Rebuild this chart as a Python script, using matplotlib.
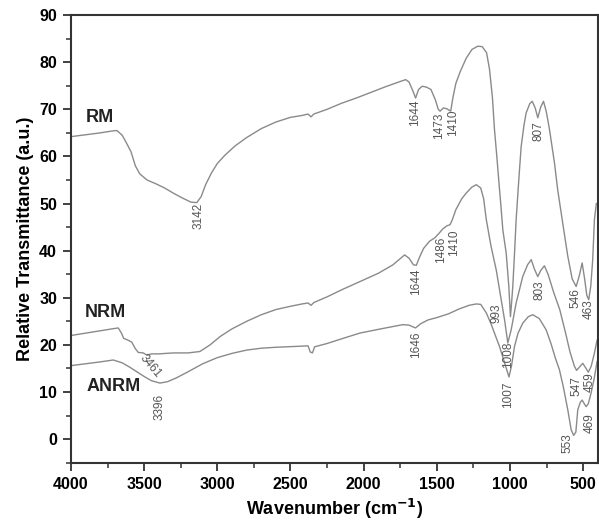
import numpy as np
import matplotlib
matplotlib.use("Agg")
import matplotlib.pyplot as plt
from matplotlib.ticker import MultipleLocator

plt.rcParams['font.family'] = ['Liberation Sans', 'DejaVu Sans']

# RM spectrum
rm_w = [4000, 3900, 3800, 3720, 3686, 3650, 3620, 3590, 3560, 3530, 3480, 3420,
        3360, 3300, 3240, 3180, 3140, 3110, 3080, 3040, 3000, 2950, 2880, 2800,
        2700, 2600, 2500, 2420, 2380, 2360, 2340, 2250, 2150, 2050, 1950, 1850,
        1760, 1713, 1690, 1665, 1645, 1625, 1600, 1570, 1540, 1510, 1490, 1478,
        1455, 1430, 1405, 1390, 1370, 1340, 1300, 1260, 1220, 1190, 1160, 1140,
        1120, 1106, 1090, 1077, 1062, 1049, 1026, 1008, 997, 989, 981, 969, 958,
        940, 924, 905, 890, 865, 848, 828, 810, 790, 771, 752, 730, 696, 674,
        640, 605, 575, 548, 528, 507, 490, 475, 462, 448, 435, 423, 410]
rm_t = [64.2, 64.6, 65.0, 65.4, 65.5, 64.5, 62.8, 61.0, 58.0, 56.3, 55.0, 54.2,
        53.3, 52.2, 51.2, 50.3, 50.2, 51.5, 54.0, 56.5, 58.5, 60.2, 62.2, 64.0,
        65.9, 67.3, 68.3, 68.7, 69.0, 68.4, 69.0, 70.0, 71.3, 72.4, 73.6, 74.8,
        75.8, 76.3, 75.8, 74.0, 72.4, 74.2, 74.9, 74.7, 74.2, 72.0, 70.0, 69.6,
        70.3, 70.1, 69.6, 72.5, 75.5, 78.0, 80.8, 82.7, 83.4, 83.3, 82.0, 78.5,
        72.5, 65.7, 60.0, 55.0, 49.5, 44.4, 39.5, 32.4, 26.0, 29.0, 32.4, 39.5, 46.6,
        55.0, 62.0, 66.5, 69.2, 71.2, 71.7, 70.3, 68.2, 70.5, 71.7, 69.5, 65.7, 58.6, 52.9,
        45.9, 38.8, 34.0, 32.4, 34.5, 37.4, 34.0, 30.5, 29.6, 32.5, 38.0, 46.6, 50.0]

# NRM spectrum
nrm_w = [4000, 3900, 3800, 3700, 3677, 3655, 3640, 3610, 3585, 3560, 3540, 3506,
         3480, 3450, 3400, 3300, 3200, 3119, 3050, 2980, 2900, 2800, 2700, 2600,
         2500, 2420, 2380, 2360, 2340, 2250, 2150, 2000, 1900, 1800, 1720, 1690,
         1660, 1640, 1620, 1590, 1550, 1515, 1490, 1460, 1430, 1410, 1395, 1370,
         1330, 1300, 1260, 1230, 1200, 1180, 1162, 1130, 1094, 1065, 1037, 1015,
         992, 958, 913, 880, 855, 832, 810, 790, 765, 740, 700, 660, 620, 590,
         560, 545, 525, 503, 480, 465, 445, 425, 405]
nrm_t = [22.0, 22.5, 23.0, 23.5, 23.6, 22.5, 21.4, 21.0, 20.6, 19.2, 18.4, 18.3,
         17.8, 18.1, 18.1, 18.3, 18.3, 18.6, 20.0, 21.8, 23.4, 25.0, 26.4, 27.5,
         28.2, 28.7, 28.9, 28.4, 29.0, 30.2, 31.7, 33.8, 35.2, 37.0, 39.1, 38.4,
         37.0, 36.9, 38.5, 40.5, 42.0, 42.7, 43.5, 44.6, 45.3, 45.5, 46.5, 48.7,
         51.0, 52.2, 53.5, 54.0, 53.3, 51.0, 46.6, 41.0, 35.9, 30.5, 25.3, 20.4,
         23.2, 28.9, 34.5, 37.0, 38.1, 36.0, 34.5, 35.8, 36.8, 35.0, 31.0, 27.5, 22.5, 18.5,
         15.5, 14.6, 15.3, 16.1, 15.0, 14.2, 15.5, 18.0, 21.0]

# ANRM spectrum
anrm_w = [4000, 3900, 3800, 3711, 3650, 3600, 3550, 3500, 3450, 3392, 3340, 3280,
          3200, 3100, 3000, 2900, 2800, 2700, 2600, 2450, 2380, 2365, 2350, 2335,
          2250, 2150, 2027, 1900, 1800, 1732, 1690, 1646, 1610, 1560, 1500, 1420,
          1350, 1280, 1230, 1200, 1162, 1130, 1094, 1072, 1030, 1007, 990, 969,
          945, 913, 875, 844, 800, 753, 720, 690, 662, 635, 605, 582, 565, 550,
          537, 520, 507, 492, 480, 465, 446, 425, 405]
anrm_t = [15.6, 16.0, 16.4, 16.8, 16.2, 15.3, 14.3, 13.3, 12.4, 11.9, 12.2, 13.0,
          14.3, 16.0, 17.3, 18.2, 18.9, 19.3, 19.5, 19.7, 19.8, 18.5, 18.3, 19.6,
          20.3, 21.3, 22.5, 23.3, 23.9, 24.3, 24.2, 23.6, 24.5, 25.3, 25.8, 26.6,
          27.6, 28.4, 28.7, 28.6, 26.8, 24.5, 21.5, 19.7, 15.5, 13.2, 15.5, 19.7,
          22.5, 24.6, 26.0, 26.4, 25.6, 23.2, 20.3, 17.2, 14.7, 11.0, 6.2, 2.0, 0.8, 1.5,
          6.2, 7.8, 8.3, 7.5, 6.9, 7.5, 9.8, 12.8, 16.5]

# peak labels: text, wavenumber, value, rotation
peak_txt = ["3142", "1644", "1473", "1410", "807",
            "3461", "1644", "1486", "1410", "993", "803", "1008", "546", "463", "547", "459",
            "3396", "1646", "1007", "553", "469"]
peak_w = [3131, 1652, 1488, 1392, 803,
          3456, 1640, 1472, 1384, 1094, 799, 1010, 553, 462, 548, 457,
          3397, 1640, 1015, 605, 457]
peak_t = [47.3, 69.2, 66.4, 67.1, 65.3,
          15.4, 33.5, 40.2, 41.6, 26.8, 31.7, 17.9, 29.9, 27.5, 11.2, 12.2,
          6.9, 20.0, 9.4, -0.85, 3.4]
peak_rot = [90, 90, 90, 90, 90,
            -50, 90, 90, 90, 90, 90, 90, 90, 90, 90, 90,
            90, 90, 90, 90, 90]

names = ["RM", "NRM", "ANRM"]
name_w = [3900, 3905, 3895]
name_t = [68.2, 26.8, 11.1]

fig = plt.figure(figsize=(5.99, 5.31), dpi=100)
ax = fig.add_axes([0.1185, 0.1286, 0.8795, 0.843])

for w, t in [(rm_w, rm_t), (nrm_w, nrm_t), (anrm_w, anrm_t)]:
    ax.plot(w, t, color="#8a8a8a", lw=1.0)

for s, w, t, r in zip(peak_txt, peak_w, peak_t, peak_rot):
    ax.text(w, t, s, rotation=r, ha="center", va="center", fontsize=8.5,
            color="#555555")

for s, w, t in zip(names, name_w, name_t):
    ax.text(w, t, s, ha="left", va="center", fontsize=13, fontweight="bold",
            color="#222222")

ax.set_xlim(4000, 400)
ax.set_ylim(-5, 90)
ax.xaxis.set_major_locator(MultipleLocator(500))
ax.xaxis.set_minor_locator(MultipleLocator(250))
ax.yaxis.set_major_locator(MultipleLocator(10))
ax.yaxis.set_minor_locator(MultipleLocator(5))
ax.tick_params(which="major", direction="out", length=6, width=1.3,
               color="#333333", labelsize=11.5, pad=4)
ax.tick_params(which="minor", direction="out", length=3.5, width=1.1,
               color="#333333")
for lab in ax.get_xticklabels() + ax.get_yticklabels():
    lab.set_fontweight("bold")
for sp in ax.spines.values():
    sp.set_linewidth(1.5)
    sp.set_color("#333333")

ax.set_xlabel(r"Wavenumber (cm$^{\mathbf{-1}}$)", fontsize=13, fontweight="bold")
ax.set_ylabel("Relative Transmittance (a.u.)", fontsize=13, fontweight="bold")

plt.savefig("out.png", dpi=100)
